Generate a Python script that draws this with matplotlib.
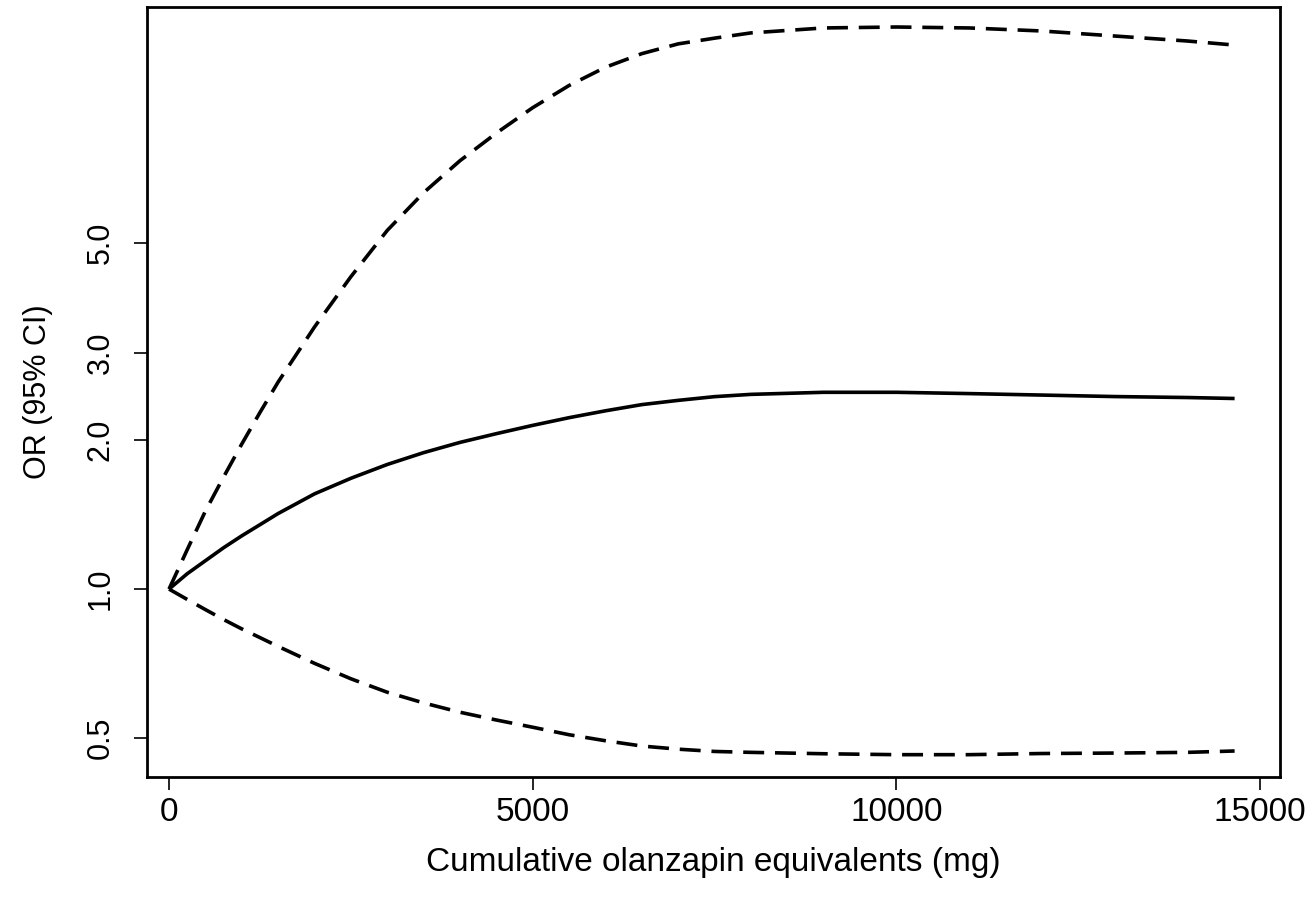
#!/usr/bin/env python3

import numpy as np
import matplotlib
matplotlib.use("Agg")
import matplotlib.pyplot as plt
from matplotlib.ticker import FixedLocator, FixedFormatter, NullLocator

# Cumulative dose (mg olanzapine equivalents)
dose = [0, 250, 500, 750, 1000, 1250, 1500, 2000, 2500, 3000, 3500, 4000, 4500,
        5000, 5500, 6000, 6500, 7000, 7500, 8000, 9000, 10000, 11000, 12000,
        13000, 14000, 14650]

# Odds ratio and 95% CI limits at each dose
odds_ratio = [1.0, 1.074, 1.141, 1.212, 1.281, 1.349, 1.421, 1.557, 1.674, 1.785,
              1.886, 1.978, 2.060, 2.141, 2.219, 2.291, 2.358, 2.405, 2.447, 2.473,
              2.497, 2.497, 2.482, 2.465, 2.448, 2.437, 2.426]
ci_upper = [1.0, 1.201, 1.437, 1.684, 1.963, 2.273, 2.619, 3.383, 4.274, 5.30,
            6.317, 7.33, 8.334, 9.38, 10.40, 11.32, 12.06, 12.62, 12.96, 13.28,
            13.59, 13.65, 13.59, 13.40, 13.09, 12.79, 12.55]
ci_lower = [1.0, 0.953, 0.909, 0.868, 0.831, 0.798, 0.766, 0.708, 0.659, 0.619,
            0.589, 0.564, 0.544, 0.526, 0.508, 0.494, 0.482, 0.475, 0.470, 0.468,
            0.465, 0.463, 0.463, 0.4655, 0.4665, 0.468, 0.471]

y_ticks = [0.5, 1.0, 2.0, 3.0, 5.0]
y_tick_labels = ["0.5", "1.0", "2.0", "3.0", "5.0"]
x_ticks = [0, 5000, 10000, 15000]
x_tick_labels = ["0", "5000", "10000", "15000"]


def draw():
  plt.rcParams["font.family"] = ["Liberation Sans", "DejaVu Sans"]
  fig = plt.figure(figsize=(13.11, 9.01), dpi=100)
  ax = fig.add_axes([0.1119, 0.138, 0.8645, 0.8539])

  lw = 2.6
  ax.plot(dose, odds_ratio, "-", color="black", lw=lw, solid_capstyle="butt",
          solid_joinstyle="round")
  for ci in (ci_upper, ci_lower):
    ax.plot(dose, ci, color="black", lw=lw, dashes=(5.8, 3.0), dash_capstyle="butt")

  ax.set_yscale("log")
  ax.set_xlim(-307, 15275)
  ax.set_ylim(0.418, 14.96)

  ax.yaxis.set_major_locator(FixedLocator(y_ticks))
  ax.yaxis.set_major_formatter(FixedFormatter(y_tick_labels))
  ax.yaxis.set_minor_locator(NullLocator())
  ax.xaxis.set_major_locator(FixedLocator(x_ticks))
  ax.xaxis.set_major_formatter(FixedFormatter(x_tick_labels))

  for s in ax.spines.values():
    s.set_linewidth(2.0)
  ax.tick_params(axis="both", direction="out", length=9.5, width=1.2)
  ax.tick_params(axis="x", pad=5, labelsize=24)
  ax.tick_params(axis="y", pad=13, labelsize=22)
  for lab in ax.get_yticklabels():
    lab.set_rotation(90)
    lab.set_verticalalignment("center")

  ax.set_xlabel("Cumulative olanzapin equivalents (mg)", fontsize=24)
  ax.set_ylabel("OR (95% CI)", fontsize=22)
  ax.xaxis.set_label_coords(0.5, -0.092)
  ax.yaxis.set_label_coords(-0.083, 0.5)

  fig.savefig("out.png", dpi=100)


if __name__ == "__main__":
  draw()
